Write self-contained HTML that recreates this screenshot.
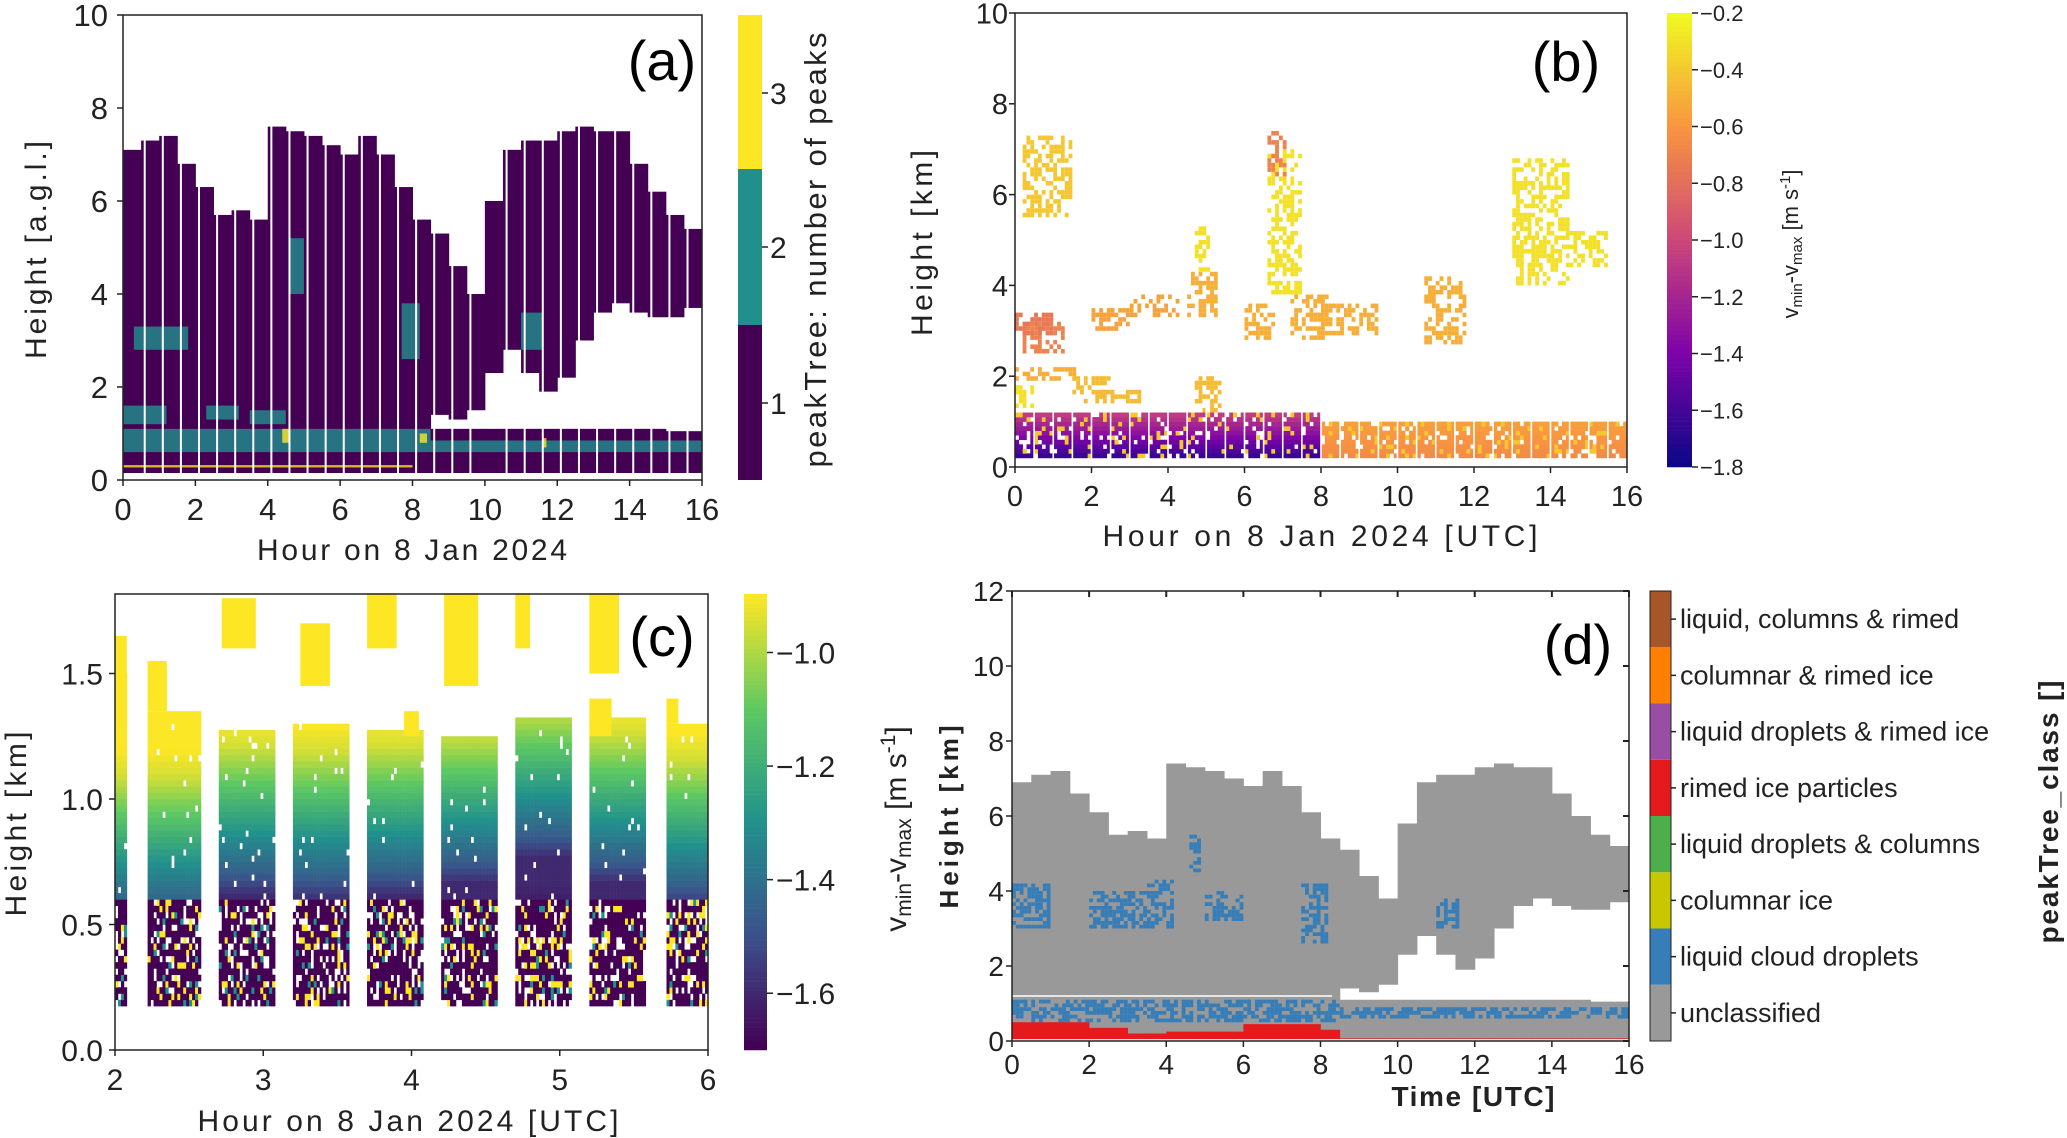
<!DOCTYPE html>
<html><head><meta charset="utf-8"><style>
html,body{margin:0;padding:0;background:#fff;}
svg{display:block;font-family:"Liberation Sans","DejaVu Sans",sans-serif;}
</style></head><body>
<svg id="fig" width="2067" height="1138" viewBox="0 0 2067 1138" xmlns="http://www.w3.org/2000/svg"></svg>
<script>
// ---------- data ----------
const binT = [0,0.5,1,1.5,2,2.5,3,3.5,4,4.5,5,5.5,6,6.5,7,7.5,8,8.5,9,9.5,10,10.5,11,11.5,12,12.5,13,13.5,14,14.5,15,15.5];
const cloudTop = [7.1,7.3,7.4,6.8,6.3,5.7,5.8,5.6,7.6,7.5,7.4,7.2,7.0,7.4,7.0,6.3,5.6,5.3,4.6,4.0,6.0,7.1,7.3,7.3,7.5,7.6,7.5,7.5,6.8,6.2,5.7,5.4];
const cloudBase = [0,0,0,0,0,0,0,0,0,0,0,0,0,0,0,0,0,1.4,1.3,1.5,2.3,2.8,2.3,1.9,2.2,3.0,3.6,3.8,3.6,3.5,3.5,3.7];
const lowTop = [1.1,1.1,1.1,1.1,1.1,1.1,1.1,1.1,1.1,1.1,1.1,1.1,1.1,1.1,1.1,1.1,1.1,1.1,1.1,1.1,1.1,1.1,1.1,1.1,1.1,1.1,1.1,1.1,1.1,1.1,1.05,1.05];
const gapTimesA = [0.6,1.1,1.6,2.1,2.6,3.1,3.6,4.1,4.6,5.1,5.6,6.1,6.6,7.1,7.6,8.1,8.6,9.1,9.6,10.6,11.1,11.6,12.1,12.6,13.1,13.6,14.1,14.6,15.1,15.6];
const tealA = [[0,1.2,1.2,1.6],[0.3,1.8,2.8,3.3],[0,8.5,0.6,1.1],[8.5,16,0.6,0.85],[4.6,5.0,4.0,5.2],[7.7,8.2,2.6,3.8],[11.0,11.6,2.8,3.6],[2.3,3.2,1.3,1.6],[3.5,4.5,1.2,1.5]];
const yellowA = [[4.4,4.6,0.8,1.1],[8.2,8.4,0.8,1.0],[11.6,11.7,0.7,0.9],[0,8,0.27,0.32]];
const blobsB = [[0,0.5,1.3,1.8,-0.3],[0,1.6,1.9,2.2,-0.5],[0.2,1.3,2.5,3.2,-0.7],[0,1.0,2.9,3.4,-0.75],[1.8,3.3,1.4,1.7,-0.45],[2,3,3.0,3.5,-0.55],[3,4.3,3.3,3.8,-0.55],[4.5,5.3,3.3,4.3,-0.5],[4.7,5.1,4.3,5.3,-0.3],[4.7,5.4,1.2,2.0,-0.45],[6,6.8,2.8,3.6,-0.5],[6.6,7.5,3.8,7.0,-0.3],[7.2,8.2,2.8,3.8,-0.5],[8.0,9.5,2.9,3.6,-0.5],[10.7,11.8,2.7,4.2,-0.5],[13,14.5,4.0,6.8,-0.3],[14.5,15.5,4.4,5.2,-0.3],[0.2,1.5,5.5,7.3,-0.4],[6.6,7.1,6.4,7.4,-0.7],[1.5,2.5,1.6,2.0,-0.45]];
const bandB = [[0,8,0.2,1.2,-1.0,-1.65],[8,16,0.2,1.0,-0.55,-0.65]];
const colStart = [2.0,2.22,2.7,3.2,3.7,4.2,4.7,5.2,5.72];
const colEnd = [2.08,2.58,3.08,3.58,4.08,4.58,5.08,5.58,6.0];
const colTop = [1.5,1.35,1.27,1.3,1.27,1.25,1.32,1.32,1.3];
const colShift = [0.12,0.12,0,0.02,0,-0.05,-0.15,-0.05,0.05];
const profH = [0.15,0.3,0.5,0.6,0.7,0.8,0.9,1.0,1.1,1.2,1.3,1.5];
const profV = [-1.7,-1.7,-1.6,-1.6,-1.45,-1.35,-1.25,-1.15,-1.05,-0.95,-0.9,-0.9];
const yellowC = [[2.0,2.08,1.3,1.65],[2.22,2.35,1.35,1.55],[2.72,2.95,1.6,1.8],[3.25,3.45,1.45,1.7],[3.7,3.9,1.6,1.82],[3.95,4.05,1.25,1.35],[4.22,4.45,1.45,1.82],[4.7,4.8,1.6,1.82],[5.2,5.4,1.5,1.82],[5.2,5.35,1.25,1.4],[5.72,5.8,1.3,1.4]];
const redTop = [0.5,0.5,0.5,0.5,0.35,0.35,0.2,0.2,0.25,0.25,0.25,0.25,0.45,0.45,0.45,0.45,0.3,0.07,0.07,0.07,0.07,0.07,0.07,0.07,0.07,0.07,0.07,0.07,0.07,0.07,0.07,0.07];
const blueD = [[0,8.5,0.5,1.1],[8.5,16,0.6,0.85],[0,1.0,3.0,4.2],[2.0,3.5,3.0,4.0],[3.5,4.2,3.0,4.3],[5,6,3.2,4.0],[7.5,8.2,2.6,4.2],[11,11.6,3.0,3.8],[4.6,4.9,4.5,5.5]];
const classNames = ["unclassified","liquid cloud droplets","columnar ice","liquid droplets & columns","rimed ice particles","liquid droplets & rimed ice","columnar & rimed ice","liquid, columns & rimed"];
const classColors = ["#999999","#377eb8","#c8c800","#4daf4a","#e41a1c","#984ea3","#ff7f00","#a65628"];

// ---------- helpers ----------
const NS="http://www.w3.org/2000/svg";
const fig=document.getElementById('fig');
function add(p,tag,a){const e=document.createElementNS(NS,tag);for(const k in a)e.setAttribute(k,a[k]);p.appendChild(e);return e;}
function lerpMap(stops,f){f=Math.max(0,Math.min(1,f));const n=stops.length-1;const i=Math.min(n-1,Math.floor(f*n));const r=f*n-i;const a=stops[i],b=stops[i+1];return `rgb(${Math.round(a[0]+(b[0]-a[0])*r)},${Math.round(a[1]+(b[1]-a[1])*r)},${Math.round(a[2]+(b[2]-a[2])*r)})`;}
const VIR=[[68,1,84],[59,82,139],[33,145,140],[94,201,98],[253,231,37]];
const PLA=[[13,8,135],[126,3,168],[204,71,120],[248,149,64],[240,249,33]];
function hash(i,j){let h=(i*374761393+j*668265263)|0;h=(h^(h>>>13))*1274126177|0;return ((h^(h>>>16))>>>0)/4294967296;}
function interp(xs,ys,x){if(x<=xs[0])return ys[0];for(let i=1;i<xs.length;i++){if(x<=xs[i]){const r=(x-xs[i-1])/(xs[i]-xs[i-1]);return ys[i-1]+(ys[i]-ys[i-1])*r;}}return ys[ys.length-1];}
function txt(p,x,y,s,size,anchor,extra){const e=add(p,'text',Object.assign({x:x,y:y,'font-size':size,'text-anchor':anchor||'middle',fill:'#222'},extra||{}));e.textContent=s;return e;}

// ---------- panel (a) ----------
const ax=t=>123+t*(702-123)/16, ay=h=>480-h*(480-15)/10;
const gA=add(fig,'g',{});


binT.forEach((t,i)=>{
  const r=add(gA,'rect',{x:ax(t),y:ay(cloudTop[i]),width:ax(t+0.5)-ax(t)+0.5,height:ay(Math.max(0.15,cloudBase[i]))-ay(cloudTop[i]),fill:'#440154'});
  
  
  if(cloudBase[i]>0){const l=add(gA,'rect',{x:ax(t),y:ay(lowTop[i]),width:ax(t+0.5)-ax(t)+0.5,height:ay(0.15)-ay(lowTop[i]),fill:'#440154'});
    
    }
});
tealA.forEach(b=>{const r=add(gA,'rect',{x:ax(b[0]),y:ay(b[3]),width:ax(b[1])-ax(b[0]),height:ay(b[2])-ay(b[3]),fill:'#21908d',opacity:0.8});
  
  });
yellowA.forEach(b=>{const r=add(gA,'rect',{x:ax(b[0]),y:ay(b[3]),width:ax(b[1])-ax(b[0]),height:Math.max(2,ay(b[2])-ay(b[3])),fill:'#fde725',opacity:0.8});
  
  });
gapTimesA.forEach(t=>{const r=add(gA,'rect',{x:ax(t)-1,y:ay(8),width:2,height:ay(0)-ay(8),fill:'#fff'});
  
  });
const bgA=add(gA,'rect',{x:123,y:ay(0.15),width:579,height:ay(0)-ay(0.15),fill:'#fff'});



// ---------- panel (b) ----------
const bx=t=>1015+t*612/16, by=h=>467-h*454/10;
const gB=add(fig,'g',{});


const vb=v=>(v+1.8)/1.6;
bandB.forEach((b,k)=>{
  for(let t=b[0];t<b[1]-1e-6;t+=0.1){for(let h=b[2];h<b[3]-1e-6;h+=0.1){
    const f=(h-b[2])/(b[3]-b[2]);let v=b[5]+(b[4]-b[5])*f;const q=hash(Math.round(t*10),Math.round(h*10)+k*97);
    if(q<0.12)continue; if(q>0.9)v=-0.4;
    const r=add(gB,'rect',{x:bx(t),y:by(h+0.1),width:bx(t+0.1)-bx(t)+0.3,height:by(h)-by(h+0.1)+0.3,fill:lerpMap(PLA,vb(v))});
    
    }}
});
blobsB.forEach((b,k)=>{
  for(let t=b[0];t<b[1]-1e-6;t+=0.1){for(let h=b[2];h<b[3]-1e-6;h+=0.1){
    const q=hash(Math.round(t*10)+k*31,Math.round(h*10));if(q<0.45)continue;
    const r=add(gB,'rect',{x:bx(t),y:by(h+0.1),width:bx(t+0.1)-bx(t),height:by(h)-by(h+0.1),fill:lerpMap(PLA,vb(b[4]))});
    
    }}
});
for(let t=0.5;t<16;t+=0.5){const r=add(gB,'rect',{x:bx(t)-0.8,y:by(1.3),width:1.6,height:by(0)-by(1.3),fill:'#fff'});
  
  }

// ---------- panel (c) ----------
const cx=t=>115+(t-2)*593/4, cy=h=>1050-h*251;
const gC=add(fig,'g',{});


const vc=v=>(v+1.70)/0.803;
colStart.forEach((s,k)=>{
  for(let t=s;t<colEnd[k]-1e-6;t+=0.02){for(let h=0.175;h<colTop[k]-1e-6;h+=0.025){
    let v=interp(profH,profV,h+colShift[k]);const q=hash(Math.round(t*50),Math.round(h*40));
    if(h<0.6){ if(q<0.18)continue; if(q>0.87)v=-0.9; else if(q>0.81)v=-1.3; else v=-1.7; }
    else if(q<0.03)continue;
    if(h>0.28&&h<0.32)v=-1.7;
    const r=add(gC,'rect',{x:cx(t),y:cy(h+0.025),width:cx(t+0.02)-cx(t)+0.3,height:cy(h)-cy(h+0.025)+0.3,fill:lerpMap(VIR,vc(v))});
    
    }}
});
yellowC.forEach(b=>{const r=add(gC,'rect',{x:cx(b[0]),y:cy(b[3]),width:cx(b[1])-cx(b[0]),height:cy(b[2])-cy(b[3]),fill:'#fde725'});
  
  });

// ---------- panel (d) ----------
const dx=t=>1012+t*617/16, dy=h=>1041-h*450/12;
const gD=add(fig,'g',{});


binT.forEach((t,i)=>{
  const r=add(gD,'rect',{x:dx(t),y:dy(cloudTop[i]-0.2),width:dx(t+0.5)-dx(t)+0.5,height:dy(Math.max(0.05,cloudBase[i]))-dy(cloudTop[i]-0.2),fill:'#999999'});
  
  
  if(cloudBase[i]>0){const l=add(gD,'rect',{x:dx(t),y:dy(lowTop[i]),width:dx(t+0.5)-dx(t)+0.5,height:dy(0.05)-dy(lowTop[i]),fill:'#999999'});
    
    }
});
blueD.forEach((b,k)=>{
  for(let t=b[0];t<b[1]-1e-6;t+=0.1){for(let h=b[2];h<b[3]-1e-6;h+=0.1){
    if(hash(Math.round(t*10)+k*13,Math.round(h*10))<0.4)continue;
    const r=add(gD,'rect',{x:dx(t),y:dy(h+0.1),width:dx(t+0.1)-dx(t),height:dy(h)-dy(h+0.1),fill:'#377eb8'});
    
    }}
});
binT.forEach((t,i)=>{const r=add(gD,'rect',{x:dx(t),y:dy(redTop[i]),width:dx(t+0.5)-dx(t)+0.3,height:dy(0.05)-dy(redTop[i]),fill:'#e41a1c'});
  
  });
const wl=add(gD,'line',{x1:dx(0),x2:dx(8.3),y1:dy(1.2),y2:dy(1.2),stroke:'#fff','stroke-width':1.5});



// ---------- axes ----------
function axes(name,x0,x1,y0,y1,xt,xf,yt,yf,xlb,ylb,fs,xlabY,ylabX){
  const g=add(fig,'g',{});
  
  
  const fr=add(g,'rect',{x:x0,y:y0,width:x1-x0,height:y1-y0,fill:'none',stroke:'#222','stroke-width':1.5});
  
  
  xt.forEach(v=>{const X=xf(v);const l=add(g,'line',{x1:X,x2:X,y1:y1,y2:y1+6,stroke:'#222','stroke-width':1.5});
    
    
    const t=txt(g,X,xlabY,xlb(v),fs);
    
    });
  yt.forEach(v=>{const Y=yf(v);const l=add(g,'line',{x1:x0-6,x2:x0,y1:Y,y2:Y,stroke:'#222','stroke-width':1.5});
    
    
    const t=txt(g,ylabX,Y+fs*0.36,ylb(v),fs,'end');
    
    });
  return g;
}
const hrs=[0,2,4,6,8,10,12,14,16];
const gaA=axes('axes-a',123,702,15,480,hrs,ax,[0,2,4,6,8,10],ay,v=>v,v=>v,31,520,108);
const gaB=axes('axes-b',1015,1627,13,467,hrs,bx,[0,2,4,6,8,10],by,v=>v,v=>v,29,506,1008);
const gaC=axes('axes-c',115,708,594,1050,[2,3,4,5,6],cx,[0,0.5,1.0,1.5],cy,v=>v,v=>v.toFixed(1),30,1090,103);
const gaD=axes('axes-d',1012,1629,591,1041,hrs,dx,[0,2,4,6,8,10,12],dy,v=>v,v=>v,28,1074,1004);
[0,2,4,6,8,10,12].forEach(v=>{const l=add(gaD,'line',{x1:1629,x2:1623,y1:dy(v),y2:dy(v),stroke:'#222','stroke-width':2});
  
  });
hrs.forEach(v=>{const l=add(gaD,'line',{x1:dx(v),x2:dx(v),y1:591,y2:597,stroke:'#222','stroke-width':2});
  
  });

function rot(x,y,s,size,w,bold){const e=txt(fig,x,y,s,size,'middle',{transform:`rotate(-90 ${x} ${y})`,'font-weight':bold?'bold':'normal'});if(w)e.setAttribute('textLength',w);return e;}
let e;
e=txt(fig,412,560,'Hour on 8 Jan 2024',30,'middle',{textLength:310});


e=rot(46,250,'Height [a.g.l.]',30,218);


e=txt(fig,1320,546,'Hour on 8 Jan 2024 [UTC]',30,'middle',{textLength:435});


e=rot(932,243,'Height [km]',30,186);


e=txt(fig,408,1131,'Hour on 8 Jan 2024 [UTC]',30,'middle',{textLength:421});


e=rot(26,824,'Height [km]',30,185);


e=txt(fig,1473,1106,'Time [UTC]',28,'middle',{textLength:163,'font-weight':'bold'});


e=rot(958,817,'Height [km]',26,183,true);



[['(a)',662,80,'panel-label-a'],['(b)',1566,81,'panel-label-b'],['(c)',662,656,'panel-label-c'],['(d)',1578,664,'panel-label-d']].forEach(p=>{
  const t=txt(fig,p[1],p[2],p[0],56,'middle',{fill:'#000'});
  
  });

// ---------- colorbars ----------
const cbA=add(fig,'g',{});


[['#fde725',15,169],['#21908d',169,325],['#440154',325,480]].forEach(s=>{const r=add(cbA,'rect',{x:738,y:s[1],width:24,height:s[2]-s[1],fill:s[0]});
  
  });
[[1,403],[2,247],[3,93]].forEach(s=>{const l=add(cbA,'line',{x1:762,x2:768,y1:s[1],y2:s[1],stroke:'#222','stroke-width':1.5});
  
  
  const t=txt(cbA,770,s[1]+11,s[0],30,'start');
  
  });
e=rot(826,250,'peakTree: number of peaks',31,435);


const cbB=add(fig,'g',{});


for(let i=0;i<100;i++){const r=add(cbB,'rect',{x:1667,y:13+i*4.54,width:25,height:4.8,fill:lerpMap(PLA,1-i/99)});
  
  }
[-0.2,-0.4,-0.6,-0.8,-1.0,-1.2,-1.4,-1.6,-1.8].forEach(v=>{const Y=13+(-0.2-v)/1.6*454;
  const l=add(cbB,'line',{x1:1692,x2:1698,y1:Y,y2:Y,stroke:'#222','stroke-width':1.5});
  
  
  const t=txt(cbB,1700,Y+8,'\u2212'+Math.abs(v).toFixed(1),22,'start');
  
  });
e=txt(fig,1798,244,'',22,'middle',{transform:'rotate(-90 1798 244)'});
e.innerHTML='v<tspan font-size="15" dy="4">min</tspan><tspan dy="-4">-v</tspan><tspan font-size="15" dy="4">max</tspan><tspan dy="-4"> [m s</tspan><tspan font-size="15" dy="-8">-1</tspan><tspan dy="8">]</tspan>';


const cbC=add(fig,'g',{});


for(let i=0;i<100;i++){const r=add(cbC,'rect',{x:744,y:594+i*4.56,width:23,height:4.8,fill:lerpMap(VIR,1-i/99)});
  
  }
[-1.0,-1.2,-1.4,-1.6].forEach(v=>{const Y=594+(-0.897-v)/0.803*456;
  const l=add(cbC,'line',{x1:767,x2:773,y1:Y,y2:Y,stroke:'#222','stroke-width':1.5});
  
  
  const t=txt(cbC,776,Y+11,'\u2212'+Math.abs(v).toFixed(1),30,'start');
  
  });
e=txt(fig,906,829,'',30,'middle',{transform:'rotate(-90 906 829)'});
e.innerHTML='v<tspan font-size="21" dy="5">min</tspan><tspan dy="-5">-v</tspan><tspan font-size="21" dy="5">max</tspan><tspan dy="-5"> [m s</tspan><tspan font-size="21" dy="-11">-1</tspan><tspan dy="11">]</tspan>';


const cbD=add(fig,'g',{});


const segH=450/8;
classNames.forEach((n,i)=>{const Y=1041-(i+1)*segH;
  const r=add(cbD,'rect',{x:1650,y:Y,width:21,height:segH,fill:classColors[i]});
  
  
  const l=add(cbD,'line',{x1:1671,x2:1676,y1:Y+segH/2,y2:Y+segH/2,stroke:'#222','stroke-width':1.5});
  
  
  const t=txt(cbD,1680,Y+segH/2+9,n,27,'start');
  
  });
const cbDf=add(cbD,'rect',{x:1650,y:591,width:21,height:450,fill:'none',stroke:'#222','stroke-width':1});


e=rot(2058,812,'peakTree_class []',28,263,true);


</script>
</body></html>
